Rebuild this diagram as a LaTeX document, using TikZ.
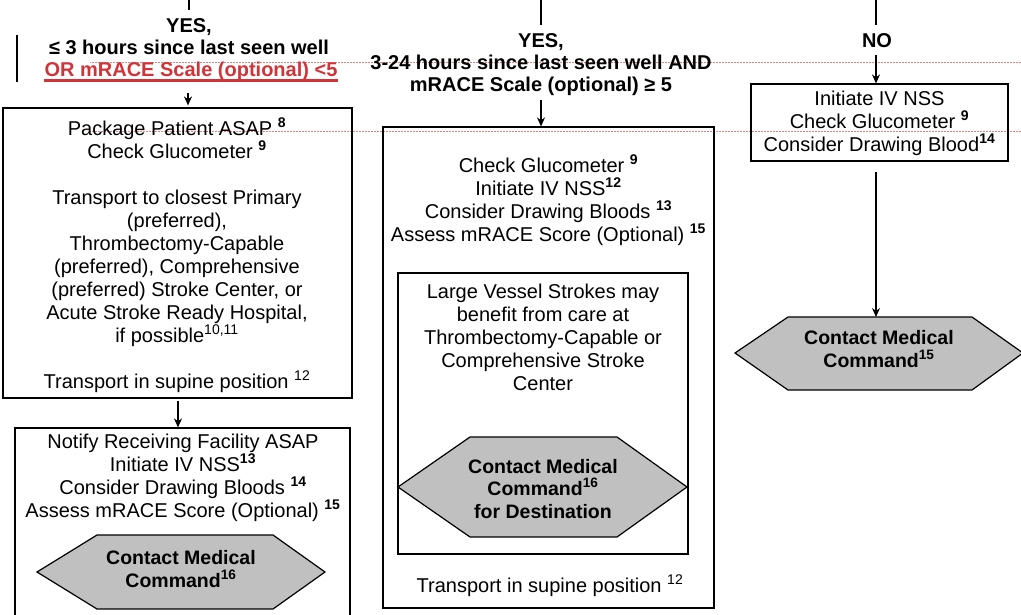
\documentclass[tikz,border=0pt]{standalone}
\usepackage{fontspec}
\setmainfont{Liberation Sans}
\usetikzlibrary{arrows.meta}
\definecolor{hexgray}{RGB}{192,192,192}
\definecolor{redlbl}{RGB}{209,52,56}
\definecolor{guide}{RGB}{228,130,130}
\newcommand\supb[1]{\textsuperscript{\bfseries #1}}
\newcommand\supr[1]{\textsuperscript{#1}}
\begin{document}
\begin{tikzpicture}[x=1pt,y=-1pt,
  box/.style={draw, line width=1.2pt, inner sep=0pt},
  txt/.style={font=\fontsize{20}{23}\selectfont, align=center, inner sep=0pt, anchor=base},
  lbl/.style={font=\fontsize{20}{22}\selectfont\bfseries, align=center, inner sep=0pt, anchor=base},
  hexlbl/.style={font=\fontsize{19.5}{22.5}\selectfont\bfseries, align=center, inner sep=0pt, anchor=base},
  hex/.style={draw, line width=1.2pt, fill=hexgray},
  conn/.style={line width=1.2pt},
  arr/.style={conn, -{Stealth[length=9pt,width=8pt]}},
  guideline/.style={guide, line width=0.5pt, densely dotted}]
\useasboundingbox (0,0) rectangle (1021,614);
\clip (0,0) rectangle (1021,614);

% guide lines
\draw[guideline] (90,62) -- (1021,62);
\draw[guideline] (90,131) -- (1021,131);
\draw[line width=1.5pt] (17,35) -- (17,82);

% ---------- left column ----------
\coordinate (topL) at (189,-5);
\coordinate (topLend) at (189,10);
\draw[conn] (topL) -- (topLend);
\node[lbl] (yesL) at (189,54) {YES,\\ ≤ 3 hours since last seen well};
\node[lbl, text=redlbl] (orL) at (191,76) {OR mRACE Scale (optional) <5};
\draw[redlbl, line width=2.5pt] ([yshift=-4.5pt]orL.base west) -- ([yshift=-4.5pt]orL.base east);

\node[box, minimum width=349pt, minimum height=290pt] (b1) at (177.5,253) {};
\node[txt] (t1) at (177,388) {Package Patient ASAP \supb{8}\\ Check Glucometer \supb{9}\\[23pt]
 Transport to closest Primary\\ (preferred),\\ Thrombectomy-Capable\\ (preferred), Comprehensive\\
 (preferred) Stroke Center, or\\ Acute Stroke Ready Hospital,\\ if possible\supr{10,11}\\[23pt]
 Transport in supine position \supr{12}};
\coordinate (aL) at (188,93);
\draw[arr, shorten >=2pt] (aL) -- (aL |- b1.north);

\node[box, minimum width=335pt, minimum height=212pt] (b2) at (182.5,534) {};
\node[txt] (t2) at (183,517) {Notify Receiving Facility ASAP\\ Initiate IV NSS\supb{13}\\
 Consider Drawing Bloods \supb{14}\\ Assess mRACE Score (Optional) \supb{15}};
\coordinate (aL2) at (178,401);
\draw[arr] (aL2) -- (aL2 |- b2.north);

\filldraw[hex] (37,572) -- (97,535) -- (273,535) -- (325,572) -- (273,609) -- (97,609) -- cycle;
\node[hexlbl] (hL) at (181,587) {Contact Medical\\ Command\supb{16}};

% ---------- middle column ----------
\coordinate (topM) at (541,-5);
\coordinate (topMend) at (541,25);
\draw[conn] (topM) -- (topMend);
\node[lbl] (yesM) at (541,91) {YES,\\ 3-24 hours since last seen well AND\\ mRACE Scale (optional) ≥ 5};
\node[box, minimum width=331pt, minimum height=481pt] (mid) at (548.5,367.5) {};
\coordinate (aM) at (541,100);
\draw[arr] (aM) -- (aM |- mid.north);
\node[txt] (m1) at (548.5,241) {Check Glucometer \supb{9}\\ Initiate IV NSS\supb{12}\\
 Consider Drawing Bloods \supb{13}\\ Assess mRACE Score (Optional) \supb{15}};
\node[box, minimum width=290pt, minimum height=281pt] (inner) at (543,413.5) {};
\node[txt] (i1) at (543,390) {Large Vessel Strokes may\\ benefit from care at\\ Thrombectomy-Capable or\\
 Comprehensive Stroke\\ Center};
\filldraw[hex] (398,487) -- (470,437) -- (617,437) -- (687,487) -- (617,537) -- (470,537) -- cycle;
\node[hexlbl] (hM) at (543,518) {Contact Medical\\ Command\supb{16}\\ for Destination};
\node[txt] (m2) at (550,592) {Transport in supine position \supr{12}};

% ---------- right column ----------
\coordinate (topR) at (876,-5);
\coordinate (topRend) at (876,25);
\draw[conn] (topR) -- (topRend);
\node[lbl] (noR) at (877,47) {NO};
\node[box, minimum width=257pt, minimum height=77pt] (rb) at (879.5,122.5) {};
\coordinate (aR) at (876,55);
\draw[arr] (aR) -- (aR |- rb.north);
\node[txt] (r1) at (879.5,151) {Initiate IV NSS\\ Check Glucometer \supb{9}\\ Consider Drawing Blood\supb{14}};
\filldraw[hex] (735,353) -- (788,317) -- (972,317) -- (1023,353) -- (972,390) -- (788,390) -- cycle;
\coordinate (hRtop) at (876,317);
\coordinate (aR2) at (876,172);
\draw[arr] (aR2) -- (hRtop);
\node[hexlbl] (hR) at (879,367) {Contact Medical\\ Command\supb{15}};
\end{tikzpicture}
\end{document}
